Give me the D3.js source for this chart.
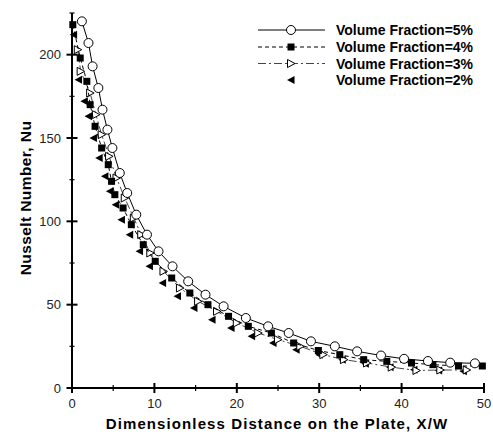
<!DOCTYPE html>
<meta charset="utf-8">
<style>
  body { margin: 0; background: #fff; }
  text { font-family: "Liberation Sans", Arial, sans-serif; }
</style>
<svg width="493" height="435"></svg>
<script src="https://d3js.org/d3.v7.min.js"></script>
<script>
    // values
    var x5 = [1.2, 2.0, 2.5, 3.2, 3.7, 4.3, 4.9, 5.8, 6.7, 7.8, 9.1, 10.5, 12.2, 14.1, 16.2, 18.4, 21.1, 23.8, 26.3, 29.0, 31.9, 34.6, 37.5, 40.3, 43.2, 45.9, 48.9];
    var y5 = [220, 207, 193, 180, 167, 155, 144, 129, 117, 104, 92, 82, 73, 64, 56, 49, 42, 37, 33, 28, 25, 22, 19.5, 17.5, 16.2, 15.2, 14.8];

    var x4 = [0.1, 1.0, 1.8, 2.2, 2.8, 3.6, 4.4, 4.8, 5.2, 6.2, 7.2, 8.65, 10.1, 12.1, 14.3, 16.5, 19.0, 21.4, 24.2, 26.9, 29.9, 32.5, 35.4, 38.2, 41.2, 43.8, 46.9, 49.8];
    var y4 = [218, 198, 184, 170, 157, 144, 134, 124, 116, 108, 98, 86, 76, 66, 57, 50, 43, 37, 33, 27, 22.5, 20, 17, 16, 15, 14, 13.2, 13.2];

    var x3 = [0.7, 1.05, 2.2, 2.9, 3.6, 4.5, 5.4, 6.4, 7.5, 8.4, 9.5, 11.1, 13.1, 15.3, 17.6, 20.0, 22.6, 25.0, 27.7, 30.5, 33.0, 35.8, 38.8, 41.8, 44.7, 47.9];
    var y3 = [203, 190, 177, 164, 152, 139, 126, 114, 102, 92, 81, 70, 60, 52, 46, 39, 33, 29, 25, 20, 17, 15, 12.5, 10.5, 10.8, 10.8];

    var x2 = [0.2, 0.8, 1.5, 2.0, 2.6, 3.3, 4.0, 4.6, 5.3, 6.0, 7.0, 8.2, 9.4, 11.0, 12.8, 14.8, 17.0, 19.3, 21.8, 24.4, 27.2, 30.0, 32.8, 35.6, 38.6, 41.5, 44.5, 47.5];
    var y2 = [212, 185, 172, 163, 150, 138, 127, 118, 110, 101, 92, 82, 73, 63, 55, 48, 41, 36, 31, 27, 23, 20, 17, 14.5, 12.5, 11, 10.5, 10];

    var legendLabels = ["Volume Fraction=5%", "Volume Fraction=4%", "Volume Fraction=3%", "Volume Fraction=2%"];
    var xTicks = [0, 10, 20, 30, 40, 50];
    var yTicks = [0, 50, 100, 150, 200];
</script>
<script>
    var svg = d3.select("svg");
    var x = d3.scaleLinear().domain([0, 50]).range([72, 484]);
    var y = d3.scaleLinear().domain([0, 225]).range([388, 13]);

    function zip(xs, ys) {
        return xs.map(function (d, i) { return [d, ys[i]]; });
    }

    var series = [
        {pts: zip(x5, y5), marker: "circle", dash: null, stroke: "#000"},
        {pts: zip(x4, y4), marker: "square", dash: "4,3", stroke: "#000"},
        {pts: zip(x3, y3), marker: "triR", dash: "8,3,2,3", stroke: "#444"},
        {pts: zip(x2, y2), marker: "triL", dash: "none", stroke: null}
    ];

    var line = d3.line()
        .x(function (d) { return x(d[0]); })
        .y(function (d) { return y(d[1]); });

    function drawMarker(g, type, cx, cy) {
        if (type === "circle") {
            g.append("circle").attr("cx", cx).attr("cy", cy).attr("r", 4.5)
                .attr("fill", "#fff").attr("stroke", "#000").attr("stroke-width", 1);
        } else if (type === "square") {
            g.append("rect").attr("x", cx - 3.5).attr("y", cy - 3.5).attr("width", 7).attr("height", 7)
                .attr("fill", "#000");
        } else if (type === "triR") {
            g.append("path").attr("d", "M" + (cx - 3.5) + "," + (cy - 4) + "L" + (cx + 4) + "," + cy + "L" + (cx - 3.5) + "," + (cy + 4) + "Z")
                .attr("fill", "#fff").attr("stroke", "#000").attr("stroke-width", 1);
        } else {
            g.append("path").attr("d", "M" + (cx + 3.5) + "," + (cy - 4) + "L" + (cx - 4) + "," + cy + "L" + (cx + 3.5) + "," + (cy + 4) + "Z")
                .attr("fill", "#000");
        }
    }

    // series: draw in reverse so 5% sits on top
    series.slice().reverse().forEach(function (s) {
        var g = svg.append("g");
        if (s.stroke) {
            g.append("path").attr("d", line(s.pts)).attr("fill", "none")
                .attr("stroke", s.stroke).attr("stroke-width", 1)
                .attr("stroke-dasharray", s.dash);
        }
        s.pts.forEach(function (p) { drawMarker(g, s.marker, x(p[0]), y(p[1])); });
    });

    // axes
    var axG = svg.append("g");
    axG.append("line").attr("x1", x(0)).attr("x2", x(50)).attr("y1", y(0)).attr("y2", y(0))
        .attr("stroke", "#000").attr("stroke-width", 2);
    axG.append("line").attr("x1", x(0)).attr("x2", x(0)).attr("y1", y(0)).attr("y2", y(225))
        .attr("stroke", "#000").attr("stroke-width", 2);

    d3.range(0, 51, 5).forEach(function (v) {
        var major = v % 10 === 0, len = major ? 5 : 3;
        axG.append("line").attr("x1", x(v)).attr("x2", x(v)).attr("y1", y(0) - len).attr("y2", y(0) + len)
            .attr("stroke", "#000").attr("stroke-width", major ? 2 : 1.2);
    });
    d3.range(0, 226, 25).forEach(function (v) {
        var major = v % 50 === 0, len = major ? 5.5 : 2.5;
        axG.append("line").attr("x1", x(0) - len).attr("x2", x(0) + len).attr("y1", y(v)).attr("y2", y(v))
            .attr("stroke", "#000").attr("stroke-width", major ? 2 : 1.2);
    });

    axG.selectAll(".xt").data(xTicks).enter().append("text")
        .attr("x", function (d) { return x(d); }).attr("y", 408)
        .attr("text-anchor", "middle").attr("font-size", 13).attr("fill", "#222")
        .text(function (d) { return d; });
    axG.selectAll(".yt").data(yTicks).enter().append("text")
        .attr("x", 61).attr("y", function (d) { return y(d) + 4.5; })
        .attr("text-anchor", "end").attr("font-size", 13).attr("fill", "#222")
        .text(function (d) { return d; });

    svg.append("text").attr("x", 277).attr("y", 429).attr("text-anchor", "middle")
        .attr("font-size", 15).attr("font-weight", "bold").attr("letter-spacing", 1.1)
        .text("Dimensionless Distance on the Plate, X/W");
    svg.append("text").attr("transform", "translate(31,198) rotate(-90)").attr("text-anchor", "middle")
        .attr("font-size", 15.5).attr("font-weight", "bold").attr("letter-spacing", 0.4)
        .text("Nusselt Number, Nu");

    // legend
    var legY = [30, 47, 63.5, 80];
    legendLabels.forEach(function (lab, i) {
        var s = series[i], g = svg.append("g");
        if (s.stroke) {
            g.append("line").attr("x1", 258).attr("x2", 325).attr("y1", legY[i]).attr("y2", legY[i])
                .attr("stroke", s.stroke).attr("stroke-width", 1).attr("stroke-dasharray", s.dash);
        }
        drawMarker(g, s.marker, 291, legY[i]);
        g.append("text").attr("x", 336).attr("y", legY[i] + 5)
            .attr("font-size", 14).attr("font-weight", "bold").text(lab);
    });
</script>
